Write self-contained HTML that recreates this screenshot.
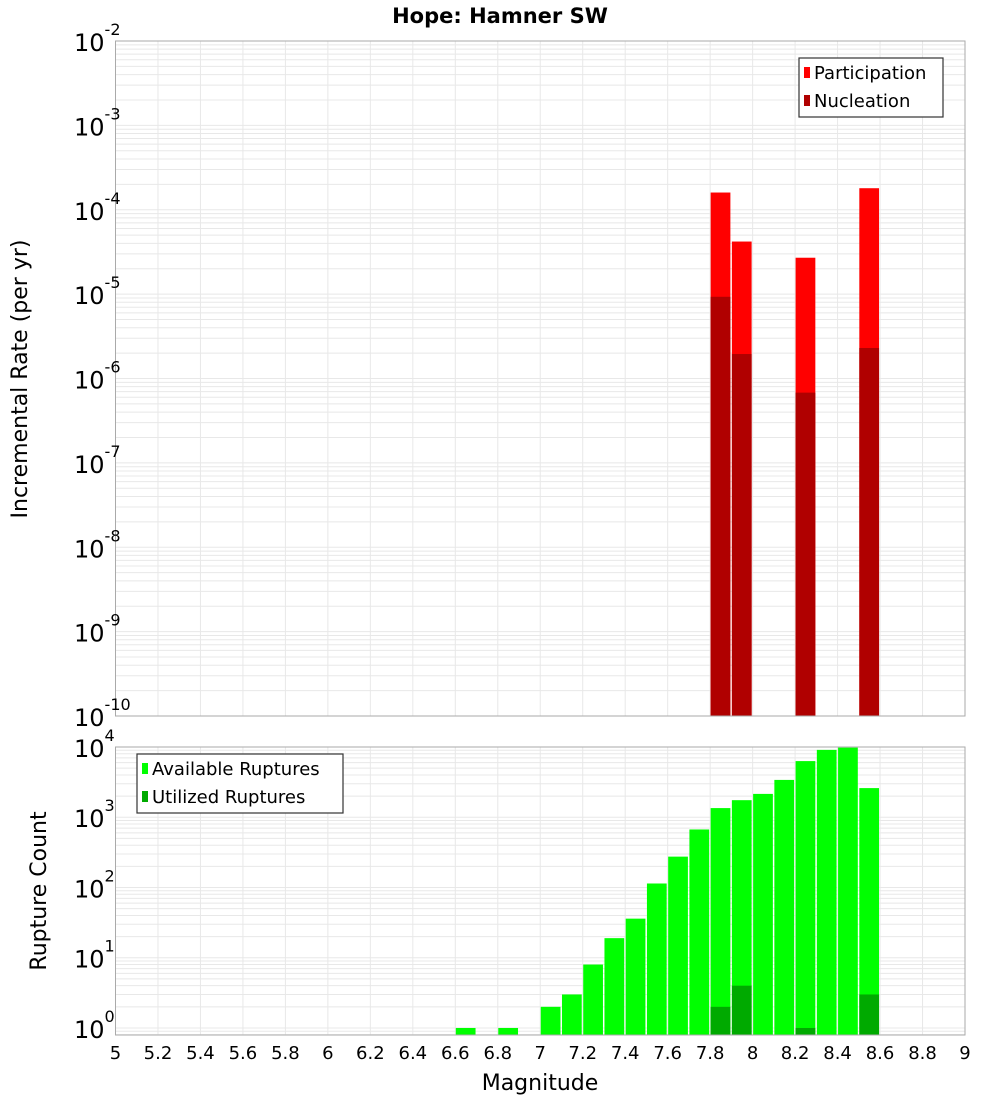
<!DOCTYPE html>
<html><head><meta charset="utf-8"><style>
body{margin:0;background:#fff;}
svg{display:block;font-family:"DejaVu Sans","Liberation Sans",sans-serif;}
</style></head><body>
<svg id="c" width="1000" height="1100" xmlns="http://www.w3.org/2000/svg">
<text x="500" y="23" text-anchor="middle" font-size="21" font-weight="bold">Hope: Hamner SW</text>
<text transform="translate(27,379) rotate(-90)" text-anchor="middle" font-size="22">Incremental Rate (per yr)</text>
<text transform="translate(46,891) rotate(-90)" text-anchor="middle" font-size="22">Rupture Count</text>
<text x="540" y="1090" text-anchor="middle" font-size="22">Magnitude</text>
</svg>
<script>
const topBins=[7.8,7.9,8.2,8.5];
const participation=[1.6e-4,4.2e-5,2.7e-5,1.8e-4];
const nucleation=[9.3e-6,1.95e-6,6.8e-7,2.3e-6];
const countBins=[6.6,6.8,7.0,7.1,7.2,7.3,7.4,7.5,7.6,7.7,7.8,7.9,8.0,8.1,8.2,8.3,8.4,8.5];
const available=[1,1,2,3,8,19,36,114,275,670,1350,1750,2150,3400,6300,9100,9800,2600];
const utilizedBins=[7.8,7.9,8.2,8.5];
const utilized=[2,4,1,3];
const xTicks=[5,5.2,5.4,5.6,5.8,6,6.2,6.4,6.6,6.8,7,7.2,7.4,7.6,7.8,8,8.2,8.4,8.6,8.8,9];
const topExps=[-2,-3,-4,-5,-6,-7,-8,-9,-10];
const botExps=[0,1,2,3,4];

const NS="http://www.w3.org/2000/svg";
const svg=document.getElementById('c');
function el(t,a,p){const e=document.createElementNS(NS,t);for(const k in a)e.setAttribute(k,a[k]);(p||svg).appendChild(e);return e;}
const L=115.5,R=965;
const X=m=>L+(m-5)/4*(R-L);
const topT=41,topB=716,topMin=-10,topMax=-2;
const Yt=v=>topB-(Math.log10(v)-topMin)/(topMax-topMin)*(topB-topT);
const botT=747,botB=1035,botMin=-0.1,botMax=4.0;
const Yb=v=>botB-(Math.log10(v)-botMin)/(botMax-botMin)*(botB-botT);

function grid(T,B,Y,lo,hi){
  const g=el('g',{});
  
  
  for(let e=Math.floor(lo);e<=hi;e++)for(let k=1;k<10;k++){const v=k*Math.pow(10,e);const lv=Math.log10(v);if(lv<lo||lv>hi)continue;const y=Y(v);el('line',{x1:L,x2:R,y1:y,y2:y,stroke:'#e8e8e8','stroke-width':1},g);}
  xTicks.forEach(t=>{const x=X(t);el('line',{x1:x,x2:x,y1:T,y2:B,stroke:'#e8e8e8','stroke-width':1},g);});
}
grid(topT,topB,Yt,topMin,topMax);
grid(botT,botB,Yb,botMin,botMax);

const bw=X(5.1)-X(5)-1.5;
topBins.forEach((m,i)=>{
  const r=el('rect',{x:X(m)+0.5,y:Yt(participation[i]),width:bw,height:topB-Yt(participation[i]),fill:'#ff0000'});
  
  
  const n=el('rect',{x:X(m)+0.5,y:Yt(nucleation[i]),width:bw,height:topB-Yt(nucleation[i]),fill:'#b00000'});
  
  
});
countBins.forEach((m,i)=>{
  const r=el('rect',{x:X(m)+0.5,y:Yb(available[i]),width:bw,height:botB-Yb(available[i]),fill:'#00ff00'});
  
  
});
utilizedBins.forEach((m,i)=>{
  const r=el('rect',{x:X(m)+0.5,y:Yb(utilized[i]),width:bw,height:botB-Yb(utilized[i]),fill:'#00aa00'});
  
  
});
[[topT,topB],[botT,botB]].forEach(([T,B])=>{
  const f=el('rect',{x:L,y:T,width:R-L,height:B-T,fill:'none',stroke:'#aaa','stroke-width':1});
  
  
});
function ylab(y,e){
  const t=el('text',{x:106,y:y+10,'text-anchor':'end','font-size':24});
  
  
  t.textContent='10';
  const s=el('tspan',{dy:-16,'font-size':16},t);s.textContent=String(e);
  t.setAttribute('x',String(74+ (String(e).length>1?0:0)));
  t.setAttribute('text-anchor','start');
}
topExps.forEach(e=>ylab(Yt(Math.pow(10,e)),e));
botExps.forEach(e=>ylab(Yb(Math.pow(10,e)),e));
xTicks.forEach(t=>{
  const tx=el('text',{x:X(t),y:1059,'text-anchor':'middle','font-size':18});
  
  
  tx.textContent=String(t);
});
function legend(x,y,w,items){
  const g=el('g',{});
  
  
  el('rect',{x:x,y:y,width:w,height:59,fill:'#fff',stroke:'#333','stroke-width':1.2},g);
  items.forEach((it,i)=>{
    el('rect',{x:x+5,y:y+9+i*28,width:6,height:11,fill:it[1]},g);
    const t=el('text',{x:x+15,y:y+21+i*28,'font-size':18},g);
    
    
    t.textContent=it[0];
  });
}
legend(799,58,144,[['Participation','#ff0000'],['Nucleation','#b00000']]);
legend(137,754,206,[['Available Ruptures','#00ff00'],['Utilized Ruptures','#00aa00']]);
</script>
</body></html>
